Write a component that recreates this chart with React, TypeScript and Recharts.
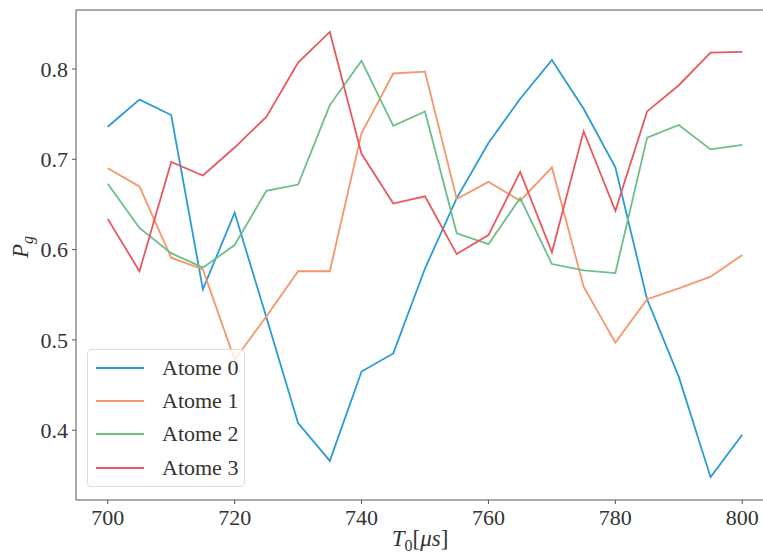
import React from 'react'
import { LineChart, Line, XAxis, YAxis, ReferenceLine, Label } from 'recharts'

const times = [700, 705, 710, 715, 720, 725, 730, 735, 740, 745, 750, 755, 760, 765, 770, 775, 780, 785, 790, 795, 800]
const atome0 = [0.736, 0.766, 0.749, 0.556, 0.641, 0.525, 0.408, 0.366, 0.465, 0.485, 0.579, 0.657, 0.718, 0.767, 0.810, 0.756, 0.691, 0.545, 0.459, 0.348, 0.395]
const atome1 = [0.690, 0.670, 0.591, 0.578, 0.478, 0.526, 0.576, 0.576, 0.729, 0.795, 0.797, 0.656, 0.675, 0.654, 0.691, 0.559, 0.497, 0.545, 0.557, 0.570, 0.594]
const atome2 = [0.673, 0.624, 0.596, 0.580, 0.605, 0.665, 0.672, 0.760, 0.809, 0.737, 0.753, 0.618, 0.606, 0.657, 0.584, 0.577, 0.574, 0.724, 0.738, 0.711, 0.716]
const atome3 = [0.634, 0.576, 0.697, 0.682, 0.713, 0.747, 0.807, 0.841, 0.706, 0.651, 0.659, 0.595, 0.616, 0.686, 0.597, 0.731, 0.643, 0.753, 0.782, 0.818, 0.819]

const seriesNames = ['Atome 0', 'Atome 1', 'Atome 2', 'Atome 3']
const colors = ['#2a9bd6', '#f7956b', '#6cbf88', '#e9585e']
const xTicks = [700, 720, 740, 760, 780, 800]
const yTicks = [0.4, 0.5, 0.6, 0.7, 0.8]

const X_MIN = 695
const X_MAX = 805
const Y_MIN = 0.3227
const Y_MAX = 0.8653

const data = times.map((t, i) => ({
    t,
    a0: atome0[i],
    a1: atome1[i],
    a2: atome2[i],
    a3: atome3[i],
}))

const FONT = 'Liberation Serif, DejaVu Serif, serif'
const TEXT = '#333'
const AXIS = '#555'

function XLabel(props: any) {
    const { viewBox } = props
    const cx = viewBox.x + viewBox.width / 2 - 5
    return (
        <text x={cx} y={546} textAnchor="middle" fontFamily={FONT} fontSize={23} fill={TEXT} fontStyle="italic">
            T<tspan fontSize={16} dy={5} fontStyle="normal">0</tspan>
            <tspan dy={-5} fontStyle="normal">[</tspan>μs<tspan fontStyle="normal">]</tspan>
        </text>
    )
}

function YLabel(props: any) {
    const { viewBox } = props
    const cy = viewBox.y + viewBox.height / 2 - 8
    return (
        <text x={0} y={0} transform={`translate(28, ${cy}) rotate(-90)`} textAnchor="middle" fontFamily={FONT} fontSize={23} fill={TEXT} fontStyle="italic">
            P<tspan fontSize={16} dy={5}>g</tspan>
        </text>
    )
}

export default function App() {
    const keys = ['a0', 'a1', 'a2', 'a3']
    return (
        <div style={{ position: 'fixed', left: 0, top: 0, width: 763, height: 555, overflow: 'hidden', background: '#fff' }}>
            <LineChart width={830} height={555} data={data} margin={{ top: 10, right: 56, left: 0, bottom: 0 }}>
                <XAxis
                    dataKey="t"
                    type="number"
                    domain={[X_MIN, X_MAX]}
                    allowDataOverflow
                    ticks={xTicks}
                    height={55}
                    tickSize={4}
                    tickMargin={5}
                    stroke={AXIS}
                    tick={{ fill: TEXT, fontSize: 22, fontFamily: FONT }}
                >
                    <Label content={XLabel} />
                </XAxis>
                <YAxis
                    type="number"
                    domain={[Y_MIN, Y_MAX]}
                    allowDataOverflow
                    ticks={yTicks}
                    width={76}
                    tickSize={4}
                    tickMargin={4}
                    stroke={AXIS}
                    tickFormatter={(v: number) => v.toFixed(1)}
                    tick={{ fill: TEXT, fontSize: 22, fontFamily: FONT }}
                >
                    <Label content={YLabel} />
                </YAxis>
                <ReferenceLine y={Y_MAX} stroke={AXIS} strokeWidth={1} />
                {keys.map((k, i) => (
                    <Line
                        key={k}
                        dataKey={k}
                        name={seriesNames[i]}
                        stroke={colors[i]}
                        strokeWidth={1.8}
                        dot={false}
                        type="linear"
                        isAnimationActive={false}
                    />
                ))}
            </LineChart>
            <div
                style={{
                    position: 'absolute',
                    left: 87,
                    top: 349,
                    width: 158,
                    height: 138,
                    background: 'rgba(255,255,255,0.8)',
                    border: '1px solid #ddd',
                    borderRadius: 4,
                    boxSizing: 'border-box',
                    paddingTop: 1,
                }}
            >
                {seriesNames.map((n, i) => (
                    <div key={n} style={{ display: 'flex', alignItems: 'center', height: 33.3 }}>
                        <div style={{ marginLeft: 8, width: 48, height: 2, background: colors[i] }} />
                        <span style={{ marginLeft: 18, fontFamily: FONT, fontSize: 22, color: TEXT }}>{n}</span>
                    </div>
                ))}
            </div>
        </div>
    )
}
